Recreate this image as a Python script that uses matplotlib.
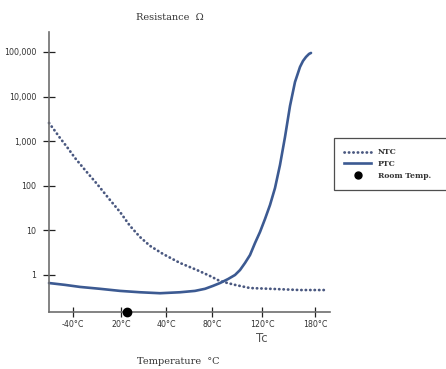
import numpy as np
import matplotlib
matplotlib.use("Agg")
import matplotlib.pyplot as plt
from matplotlib.lines import Line2D

# positions along the (non linear) temperature axis, in axis units
tick_pos = [24, 72, 117, 163, 213, 266]
tick_labels = ['-40°C', '20°C', '40°C', '80°C', '120°C', '180°C']
room_pos = 78

y_ticks = [1, 10, 100, 1000, 10000, 100000]
y_labels = ['1', '10', '100', '1,000', '10,000', '100,000']

# NTC thermistor
ntc_x = [0, 6, 11, 18, 26, 36, 48, 61, 71, 81, 91, 101, 114, 131, 148, 161, 171,
         186, 201, 221, 251, 276]
ntc_r = [2560, 1690, 1180, 741, 420, 226, 110, 48, 25.9, 12.6, 7.1, 4.5, 2.96,
         1.86, 1.29, 0.95, 0.73, 0.60, 0.51, 0.49, 0.46, 0.46]

# PTC thermistor
ptc_x = [0, 16, 31, 51, 71, 91, 111, 131, 146, 156, 164, 171, 179, 186, 191, 196,
         201, 206, 211, 216, 221, 226, 231, 236, 241, 246, 251, 254, 257, 260, 262]
ptc_r = [0.66, 0.60, 0.54, 0.49, 0.44, 0.41, 0.39, 0.41, 0.44, 0.49, 0.57, 0.66,
         0.81, 1.0, 1.29, 1.86, 2.8, 5.2, 9.2, 18, 37, 89, 293, 1240, 6150,
         21200, 46100, 62800, 77300, 90200, 95000]

ntc_col = '#4a5880'
ptc_col = '#3c5a92'
axis_col = '#6e6e6e'

fig = plt.figure(figsize=(4.46, 3.69), dpi=100)
ax = fig.add_axes([49 / 446, 57 / 369, 281 / 446, 280 / 369])

ax.plot(ntc_x, ntc_r, color=ntc_col, lw=2.0, ls=(0, (0.1, 1.5)),
        dash_capstyle='round', clip_on=False)
ax.plot(ptc_x, ptc_r, color=ptc_col, lw=1.9, solid_capstyle='round',
        solid_joinstyle='round', clip_on=False)
ax.plot([room_pos], [0.148], 'o', color='black', ms=6, clip_on=False, zorder=5)

ax.set_yscale('log')
ax.set_ylim(0.148, 2.8e5)
ax.set_xlim(0, 281)
ax.set_yticks(y_ticks)
ax.set_yticklabels(y_labels)
ax.minorticks_off()
ax.set_xticks(tick_pos)
ax.set_xticklabels(tick_labels)

for s in ['top', 'right']:
    ax.spines[s].set_visible(False)
for s in ['left', 'bottom']:
    ax.spines[s].set_color(axis_col)
    ax.spines[s].set_linewidth(1.2)

ax.tick_params(axis='y', direction='inout', length=8, width=0.9, color='#222222',
               labelsize=5.7, pad=5, labelcolor='#333333')
ax.tick_params(axis='x', direction='inout', length=7, width=0.9, color='#222222',
               labelsize=5.7, pad=2, labelcolor='#333333')

fig.text(170 / 446, 1 - 18 / 369, 'Resistance  Ω', ha='center', va='center',
         family='DejaVu Serif', fontsize=7, color='#333333')
fig.text(178 / 446, 1 - 362 / 369, 'Temperature  °C', ha='center', va='center',
         family='DejaVu Serif', fontsize=7, color='#333333')
fig.text(262 / 446, 1 - 338 / 369, 'Tc', ha='center', va='center',
         fontsize=8.5, color='#555555')

handles = [Line2D([], [], color=ntc_col, lw=2.0, ls=(0, (0.1, 1.5)), dash_capstyle='round'),
           Line2D([], [], color=ptc_col, lw=1.9),
           Line2D([], [], ls='none', marker='o', color='black', ms=5)]
leg = fig.legend(handles, ['NTC', 'PTC', 'Room Temp.'], loc='upper left',
                 bbox_to_anchor=(334 / 446, 1 - 142 / 369, 120 / 446, 0.01),
                 mode='expand', frameon=True, fancybox=False, borderaxespad=0,
                 prop={'family': 'DejaVu Serif', 'size': 5.5, 'weight': 'bold'},
                 handlelength=3.6, handletextpad=0.8, labelspacing=0.5,
                 borderpad=1.3)
leg.get_frame().set_edgecolor('#222222')
leg.get_frame().set_linewidth(0.9)
for t in leg.get_texts():
    t.set_color('#333333')

fig.savefig('out.png', dpi=100)
